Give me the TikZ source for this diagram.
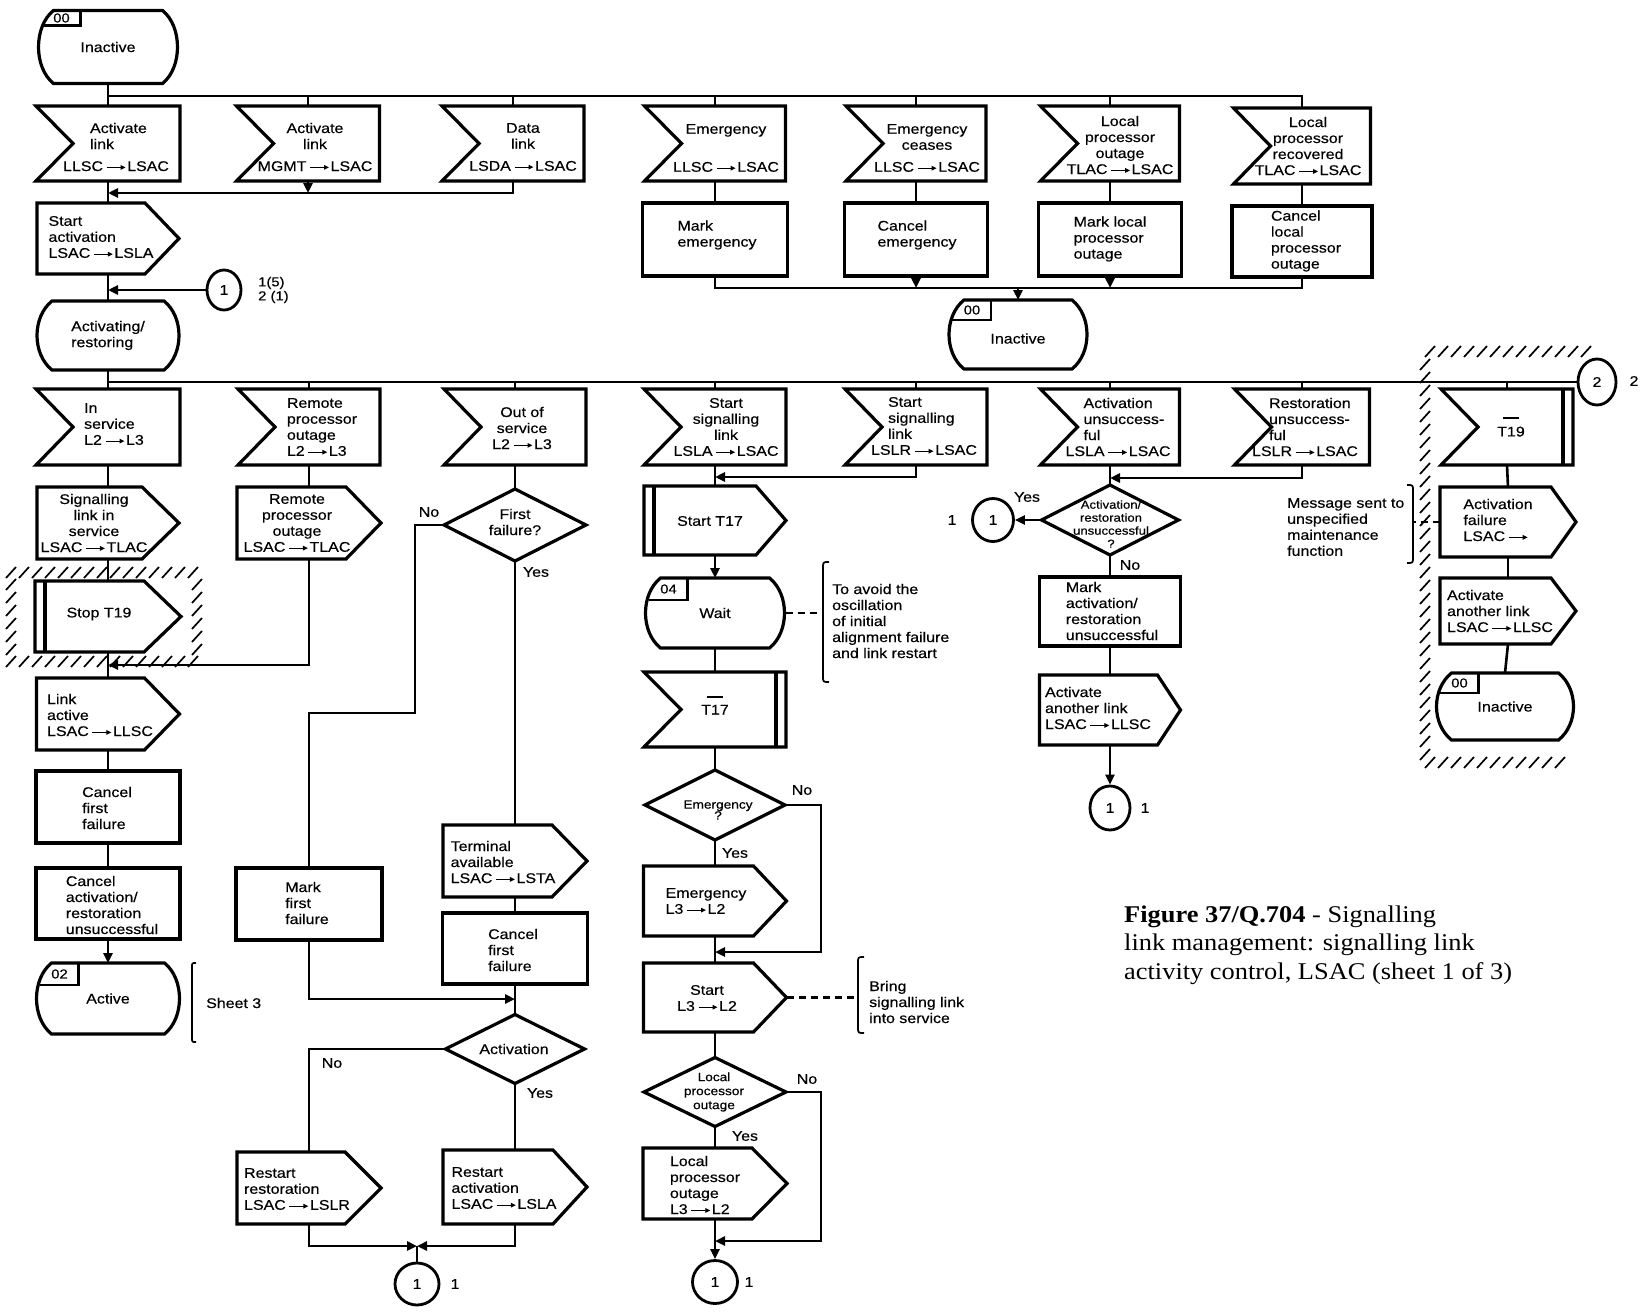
\documentclass[tikz,border=0pt]{standalone}
\usepackage{fontspec}
\setmainfont{Liberation Sans}[FakeStretch=1.14,FakeBold=0.4]
\newfontfamily\capfont{Liberation Serif}[FakeStretch=1.1]
\usetikzlibrary{calc,arrows.meta,shapes.geometric}

\newcommand\fs{\fontsize{14}{16}\selectfont}
\newcommand\fl{\fontsize{13}{14}\selectfont}
\newcommand\fsa{\fontsize{11.5}{13}\selectfont}
\newcommand\fsb{\fontsize{12}{11}\selectfont}
\newcommand\fsc{\fontsize{12}{14}\selectfont}
\newcommand\ar{\kern3pt\tikz[baseline=-3.6pt]\draw[line width=1.2pt,-{Triangle[length=5pt,width=4.5pt]}] (0pt,0pt)--(19pt,0pt);\kern1pt}
\newcommand\odepth{35}

\tikzset{
 shp/.style={line width=3.2pt},
 con/.style={line width=2.6pt},
 arr/.style={-{Triangle[length=10pt,width=9pt]}},
 hat/.style={line width=1.7pt},
 brk/.style={line width=1.7pt},
 box/.style={rectangle,draw=none,inner sep=0pt,outer sep=0pt},
 txt/.style={inner sep=0pt,outer sep=0pt,align=center,font=\fs},
 lbl/.style={inner sep=0pt,font=\fs},
 note/.style={inner sep=0pt,anchor=west,align=left,font=\fs},
 conn/.style={ellipse,draw,line width=2.8pt,inner sep=0pt,font=\fs},
 dsh/.style={line width=2.4pt,dash pattern=on 7pt off 5pt},
}

% input: [text opts]{name}{x}{y}{w}{h}{tx}{ty}{text}
\newcommand\Inp[9][]{%
 \node[box,minimum width=#5pt,minimum height=#6pt] (#2) at (#3,#4) {};
 \draw[shp] (#2.north west) -- (#2.north east) -- (#2.south east) -- (#2.south west) -- ($(#2.west)+(37,0)$) -- cycle;
 \node[txt,#1] (#2t) at (#7,#8) {#9};}
\newcommand\Out[9][]{%
 \node[box,minimum width=#5pt,minimum height=#6pt] (#2) at (#3,#4) {};
 \draw[shp] (#2.north west) -- ($(#2.north east)+(-\odepth,0)$) -- (#2.east) -- ($(#2.south east)+(-\odepth,0)$) -- (#2.south west) -- cycle;
 \node[txt,#1] (#2t) at (#7,#8) {#9};}
\newcommand\Task[9][]{%
 \node[box,minimum width=#5pt,minimum height=#6pt] (#2) at (#3,#4) {};
 \draw[shp] (#2.north west) rectangle (#2.south east);
 \node[txt,#1] (#2t) at (#7,#8) {#9};}
\newcommand\Dec[9][]{%
 \node[box,minimum width=#5pt,minimum height=#6pt] (#2) at (#3,#4) {};
 \draw[shp] (#2.north) -- (#2.east) -- (#2.south) -- (#2.west) -- cycle;
 \node[txt,#1] (#2t) at (#7,#8) {#9};}
\newcommand\State[7][]{%
 \node[box,minimum width=#5pt,minimum height=#6pt] (#2) at (#3,#4) {};
 \draw[shp] ($(#2.north west)+(16,0)$) -- ($(#2.north east)+(-16,0)$) .. controls ($(#2.north east)+(4,16)$) and ($(#2.south east)+(4,-16)$) .. ($(#2.south east)+(-16,0)$) -- ($(#2.south west)+(16,0)$) .. controls ($(#2.south west)+(-4,-16)$) and ($(#2.north west)+(-4,16)$) .. cycle;
 \node[txt,#1] (#2t) at (#2.center) {#7};}
\newcommand\Lab[3]{%
 \draw[shp,line width=2.4pt] ($(#1.north west)+(43,0)$) -- ($(#1.north west)+(43,#2)$) -- ($(#1.north west)+(4,#2)$);
 \node[txt,font=\fl] (#1l) at ($(#1.north west)+(24,#2/2)$) {#3};}
\newcommand\TimerBar[1]{\draw[shp] ($(#1.north east)+(-10,0)$) -- ($(#1.south east)+(-10,0)$);}
\newcommand\TaskBar[1]{\draw[shp] ($(#1.north west)+(10,0)$) -- ($(#1.south west)+(10,0)$);}

\begin{document}
\begin{tikzpicture}[x=1pt,y=-1pt]
\useasboundingbox (0,0) rectangle (1647,1314);
\fill[white] (0,0) rectangle (1647,1314);

% ---------- hatching ----------
\foreach \x in {11,24,...,196} {\draw[hat] (\x-5,578) -- ++(10,-11); \draw[hat] (\x-5,667) -- ++(10,-11);}
\foreach \y in {585,598,...,652} {\draw[hat] (6,\y+5) -- ++(10,-11); \draw[hat] (192,\y+5) -- ++(10,-11);}
\foreach \x in {1430,1443,...,1588} \draw[hat] (\x-5,357) -- ++(10,-11);
\foreach \y in {365,378,...,756} \draw[hat] (1420,\y+5) -- ++(10,-11);
\foreach \x in {1430,1443,...,1572} \draw[hat] (\x-5,768) -- ++(10,-11);

% ---------- top part ----------
\State{sin1}{108}{47}{141}{73}{Inactive}
\Lab{sin1}{15}{00}

\Inp[align=left]{inal1}{108}{143.5}{144}{75}{116}{147}{\hspace*{27pt}Activate\\\hspace*{27pt}link\\[6pt]LLSC\ar LSAC}
\Inp{inal2}{308}{143.5}{143}{75}{315}{147}{Activate\\link\\[6pt]MGMT\ar LSAC}
\Inp{indl}{513}{143.5}{142}{75}{523}{147}{Data\\link\\[6pt]LSDA\ar LSAC}
\Inp{inem}{715}{143.5}{141}{75}{726}{148}{Emergency\\[22pt]LLSC\ar LSAC}
\Inp{inec}{916}{143.5}{140}{75}{927}{148}{Emergency\\ceases\\[6pt]LLSC\ar LSAC}
\Inp{inlpo}{1110}{143.5}{139}{75}{1120}{145}{Local\\processor\\outage\\TLAC\ar LSAC}
\Inp{inlpr}{1302}{146}{137}{76}{1308}{146}{Local\\processor\\recovered\\TLAC\ar LSAC}

{\renewcommand\odepth{34}
\Out[align=left]{outsa}{108}{238.5}{142}{71}{101}{237}{Start\\activation\\LSAC\ar LSLA}}

\Task[align=left]{tme}{715}{239.5}{145}{73}{717}{235}{Mark\\emergency}
\Task[align=left]{tce}{916}{239.5}{143}{73}{917}{235}{Cancel\\emergency}
\Task[align=left]{tmlpo}{1110}{239.5}{143}{73}{1110}{239}{Mark local\\processor\\outage}
\Task[align=left]{tclpo}{1302}{241.5}{140}{71}{1306}{241}{Cancel\\local\\processor\\outage}

\State[shift={(0,4)}]{sin2}{1018}{334.5}{140}{69}{Inactive}
\Lab{sin2}{20}{00}

\node[conn,minimum width=34pt,minimum height=40pt] (c1a) at (224,290) {1};
\node[note,font=\fontsize{13}{14}\selectfont] (c1al) at (258,290) {1(5)\\2 (1)};

\State[align=left]{sact}{108}{335.5}{144}{69}{Activating/\\restoring}

\node[conn,minimum width=38pt,minimum height=46pt] (c2) at (1597,382) {2};
\node[lbl] (c2l) at (1634,381) {2};

% ---------- row 3 inputs ----------
\Inp[align=left]{inis}{108}{427}{144}{76}{114}{424}{In\\service\\L2\ar L3}
\Inp[align=left]{inrpo}{309}{427}{142}{76}{322}{427}{Remote\\processor\\outage\\L2\ar L3}
\Inp{inoos}{515}{427}{142}{76}{522}{428}{Out of\\service\\L2\ar L3}
\Inp{inssl1}{715}{427}{142}{76}{726}{427}{Start\\signalling\\link\\LSLA\ar LSAC}
\Inp[align=left]{inssl2}{916}{427}{142}{76}{924}{426}{\hspace*{17pt}Start\\\hspace*{17pt}signalling\\\hspace*{17pt}link\\LSLR\ar LSAC}
\Inp[align=left]{inau}{1110}{427}{139}{76}{1118}{427}{\hspace*{18pt}Activation\\\hspace*{18pt}unsuccess-\\\hspace*{18pt}ful\\LSLA\ar LSAC}
\Inp[align=left]{inru}{1302}{427}{135}{76}{1305}{427}{\hspace*{17pt}Restoration\\\hspace*{17pt}unsuccess-\\\hspace*{17pt}ful\\LSLR\ar LSAC}
\Inp{int19}{1507}{427}{132}{76}{1511}{427}{\rule{16pt}{2pt}\\[1pt]T19}
\TimerBar{int19}

% ---------- column 1 ----------
{\renewcommand\odepth{37}
\Out{outslis}{108}{523}{142}{72}{94}{523}{Signalling\\link in\\service\\LSAC\ar TLAC}
\Out{outst19}{108}{616.5}{146}{71}{99}{614}{Stop T19}}
\TaskBar{outst19}
\Out[align=left]{outla}{108}{714}{143}{72}{100}{715}{Link\\active\\LSAC\ar LLSC}
\Task[align=left]{tcff1}{108}{807}{144}{72}{107}{808}{Cancel\\first\\failure}
\Task[align=left]{tcars}{108}{903.5}{144}{71}{112}{905}{Cancel\\activation/\\restoration\\unsuccessful}
\State{sactive}{108}{998.5}{145}{71}{Active}
\Lab{sactive}{22}{02}
\draw[brk] (196,963) .. controls (192,963) .. (192,967) -- (192,1038) .. controls (192,1042) .. (196,1042);
\node[note] (sheet) at (206,1003) {Sheet 3};

% ---------- column 2 ----------
\Out{outrpo2}{309}{523}{144}{72}{297}{523}{Remote\\processor\\outage\\LSAC\ar TLAC}
\Task[align=left]{tmff}{309}{904}{146}{72}{307}{903}{Mark\\first\\failure}
{\renewcommand\odepth{36}
\Out[align=left]{outrr}{309}{1188}{144}{72}{297}{1189}{Restart\\restoration\\LSAC\ar LSLR}}

% ---------- column 3 ----------
\Dec{decff}{515}{525}{142}{72}{515}{522}{First\\failure?}
\node[lbl] (ffno) at (429,512) {No};
\node[lbl] (ffyes) at (536,572) {Yes};
\Out[align=left]{outta}{515}{861}{144}{72}{503}{862}{Terminal\\available\\LSAC\ar LSTA}
\Task[align=left]{tcff2}{515}{948.5}{145}{71}{513}{950}{Cancel\\first\\failure}
\Dec{decact}{515}{1049}{139}{69}{514}{1049}{Activation}
\node[lbl] (actno) at (332,1063) {No};
\node[lbl] (actyes) at (540,1093) {Yes};
{\renewcommand\odepth{34}
\Out[align=left]{outra}{515}{1187}{144}{74}{504}{1188}{Restart\\activation\\LSAC\ar LSLA}}
\node[conn,minimum width=44pt,minimum height=42pt] (c1b) at (417,1284) {1};
\node[lbl] (c1bl) at (455,1284) {1};

% ---------- column 4 ----------
{\renewcommand\odepth{30}
\Out{outst17}{715}{520.5}{142}{69}{710}{521}{Start T17}}
\TaskBar{outst17}
\State{swait}{715}{613}{141}{70}{Wait}
\Lab{swait}{22}{04}
\Inp{int17}{715}{709.5}{142}{75}{715}{705}{\rule{16pt}{2pt}\\[1pt]T17}
\TimerBar{int17}
\Dec[font=\fsb]{decem}{715}{805}{140}{70}{718}{810}{Emergency\\?}
\node[lbl] (emno) at (802,790) {No};
\node[lbl] (emyes) at (735,853) {Yes};
{\renewcommand\odepth{33}
\Out[align=left]{outem}{715}{901}{143}{70}{706}{901}{Emergency\\L3\ar L2}
\Out{outstart}{715}{997.5}{143}{69}{707}{998}{Start\\L3\ar L2}}
\Dec[font=\fsc]{declpo}{715}{1092}{142}{69}{714}{1092}{Local\\processor\\outage}
\node[lbl] (lpono) at (807,1079) {No};
\node[lbl] (lpoyes) at (745,1136) {Yes};
\Out[align=left]{outlpo}{715}{1183.5}{144}{71}{705}{1185}{Local\\processor\\outage\\L3\ar L2}
\node[conn,minimum width=45pt,minimum height=43pt] (c1c) at (715,1282) {1};
\node[lbl] (c1cl) at (749,1282) {1};

\node[note] (note1) at (832,621) {To avoid the\\oscillation\\of initial\\alignment failure\\and link restart};
\draw[brk] (829,562) .. controls (823,562) .. (823,568) -- (823,676) .. controls (823,682) .. (829,682);
\node[note] (note2) at (869,1002) {Bring\\signalling link\\into service};
\draw[brk] (864,957) .. controls (858,957) .. (858,963) -- (858,1027) .. controls (858,1033) .. (864,1033);

% ---------- column 5 ----------
\Dec[font=\fsa]{decau}{1110}{520}{137}{70}{1111}{524}{Activation/\\restoration\\unsuccessful\\?}
\node[lbl] (auyes) at (1027,497) {Yes};
\node[lbl] (auno) at (1130,565) {No};
\node[conn,minimum width=41pt,minimum height=43pt] (c1d) at (993,520) {1};
\node[lbl] (c1dl) at (952,520) {1};
\Task[align=left]{tmars}{1110}{611.5}{141}{69}{1112}{611}{Mark\\activation/\\restoration\\unsuccessful}
{\renewcommand\odepth{23}
\Out[align=left]{outaal}{1110}{710}{141}{70}{1098}{708}{Activate\\another link\\LSAC\ar LLSC}}
\node[conn,minimum width=40pt,minimum height=44pt] (c1e) at (1110,808) {1};
\node[lbl] (c1el) at (1145,808) {1};

% ---------- column 6 ----------
{\renewcommand\odepth{25}
\Out[align=left]{outaf}{1508}{522}{136}{70}{1498}{520}{Activation\\failure\\LSAC\ar}
\Out[align=left]{outaal2}{1508}{611}{136}{66}{1500}{611}{Activate\\another link\\LSAC\ar LLSC}}
\State{sin3}{1505}{706.5}{139}{67}{Inactive}
\Lab{sin3}{20}{00}
\node[note] (note3) at (1287,527) {Message sent to\\unspecified\\maintenance\\function};
\draw[brk] (1407,485) .. controls (1413,485) .. (1413,491) -- (1413,557) .. controls (1413,563) .. (1407,563);

% ---------- caption ----------
\node[anchor=west,align=left,inner sep=0pt,font=\capfont\fontsize{24}{28.5}\selectfont] (cap) at (1124,945)
 {\textbf{Figure 37/Q.704} - Signalling\\link management: signalling link\\activity control, LSAC (sheet 1 of 3)};

% ---------- connectors ----------
\coordinate (b1) at (108,96);
\draw[con] (sin1.south) -- (inal1.north);
\draw[con] (b1) -| (inlpr.north);
\foreach \n in {inal2,indl,inem,inec,inlpo} \draw[con] (\n.north |- b1) -- (\n.north);

\coordinate (j1) at (108,193);
\draw[con] (inal1.south) -- (outsa.north);
\draw[con,arr] (indl.south) |- (j1);
\draw[con,arr] (inal2.south) -- (inal2.south |- j1);
\draw[con] (outsa.south) -- (sact.north);
\draw[con,arr] (c1a.west) -- (c1a.west -| sact.north);

\draw[con] (inem.south) -- (tme.north);
\draw[con] (inec.south) -- (tce.north);
\draw[con] (inlpo.south) -- (tmlpo.north);
\draw[con] (inlpr.south) -- (tclpo.north);
\coordinate (j9) at (1018,288);
\draw[con] (tme.south) |- (j9);
\draw[con] (tclpo.south) |- (j9);
\draw[con,arr] (tce.south) -- (tce.south |- j9);
\draw[con,arr] (tmlpo.south) -- (tmlpo.south |- j9);
\draw[con,arr] (j9) -- (sin2.north);

\coordinate (b2) at (108,382);
\draw[con] (sact.south) -- (inis.north);
\draw[con] (b2) -- (c2.west);
\foreach \n in {inrpo,inoos,inssl1,inssl2,inau,inru,int19} \draw[con] (\n.north |- b2) -- (\n.north);

\draw[con] (inis.south) -- (outslis.north);
\draw[con] (outslis.south) -- (outst19.north);
\draw[con] (outst19.south) -- (outla.north);
\coordinate (j2) at (108,665);
\draw[con] (inrpo.south) -- (outrpo2.north);
\draw[con,arr] (outrpo2.south) |- (j2);
\draw[con] (outla.south) -- (tcff1.north);
\draw[con] (tcff1.south) -- (tcars.north);
\draw[con,arr] (tcars.south) -- (sactive.north);

\draw[con] (inoos.south) -- (decff.north);
\coordinate (ff1) at (415,713);
\draw[con] (decff.west) -| (ff1) -| (tmff.north);
\draw[con] (decff.south) -- (outta.north);
\draw[con] (outta.south) -- (tcff2.north);
\coordinate (j3) at (515,999);
\draw[con,arr] (tmff.south) |- (j3);
\draw[con] (tcff2.south) -- (decact.north);
\draw[con] (decact.west) -| (outrr.north);
\draw[con] (decact.south) -- (outra.north);
\coordinate (j4) at (417,1246);
\draw[con,arr] (outrr.south) |- (j4);
\draw[con,arr] (outra.south) |- (j4);
\draw[con] (j4) -- (c1b.north);

\coordinate (j5) at (715,477);
\draw[con] (inssl1.south) -- (outst17.north);
\draw[con,arr] (inssl2.south) |- (j5);
\draw[con,arr] (outst17.south) -- (swait.north);
\draw[con] (swait.south) -- (int17.north);
\draw[con] (int17.south) -- (decem.north);
\draw[con] (decem.south) -- (outem.north);
\coordinate (e1) at (821,952);
\coordinate (j6) at (715,952);
\draw[con,arr] (decem.east) -| (e1) -- (j6);
\draw[con] (outem.south) -- (outstart.north);
\draw[con] (outstart.south) -- (declpo.north);
\draw[con] (declpo.south) -- (outlpo.north);
\coordinate (e2) at (821,1241);
\coordinate (j7) at (715,1241);
\draw[con,arr] (declpo.east) -| (e2) -- (j7);
\draw[con,arr] (outlpo.south) -- (c1c.north);
\coordinate (br1) at (823,613);
\draw[dsh] (swait.east) -- (br1);
\coordinate (br2) at (858,997.5);
\draw[dsh] (outstart.east) -- (br2);

\coordinate (j8) at (1110,478);
\draw[con] (inau.south) -- (decau.north);
\draw[con,arr] (inru.south) |- (j8);
\draw[con,arr] (decau.west) -- (c1d.east);
\draw[con] (decau.south) -- (tmars.north);
\draw[con] (tmars.south) -- (outaal.north);
\draw[con,arr] (outaal.south) -- (c1e.north);

\draw[con] (int19.south) -- (outaf.north);
\draw[con] (outaf.south) -- (outaal2.north);
\draw[con] (outaal2.south) -- (sin3.north);
\coordinate (br3) at (1413,522);
\draw[dsh] (outaf.west) -- (br3);
\end{tikzpicture}
\end{document}
